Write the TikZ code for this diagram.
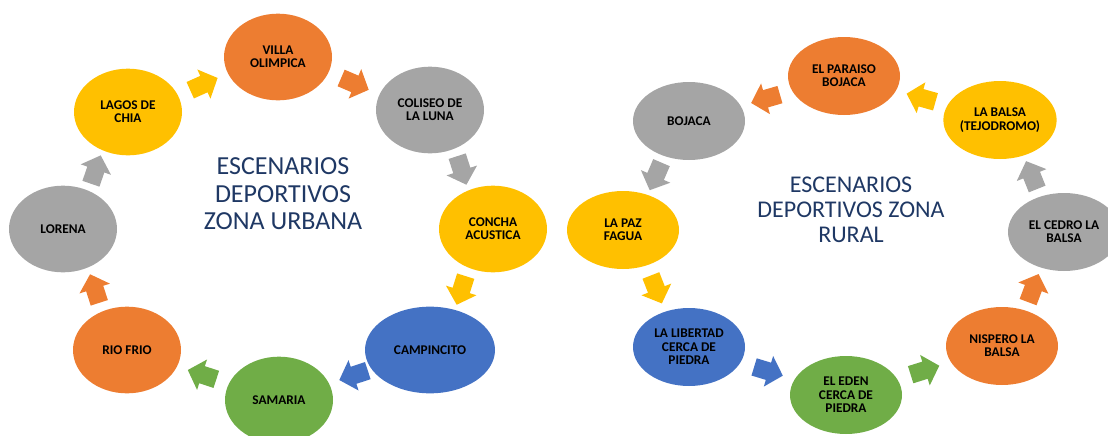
\documentclass[tikz,border=0pt]{standalone}
\usepackage{fontspec}
\setmainfont{Carlito}
\usetikzlibrary{shapes.geometric,calc}
\definecolor{naranja}{HTML}{ED7D31}
\definecolor{amarillo}{HTML}{FFC000}
\definecolor{gris}{HTML}{A5A5A5}
\definecolor{azul}{HTML}{4472C4}
\definecolor{verde}{HTML}{70AD47}
\definecolor{titulo}{HTML}{1F3864}

\begin{document}
\begin{tikzpicture}
  [x=0.75pt,y=-0.75pt,
   lugar/.style={ellipse,inner sep=0pt,minimum width=81pt,minimum height=65pt,
     align=center,font=\fontsize{10}{10}\selectfont\bfseries},
   rural/.style={lugar,minimum width=84pt,minimum height=58.5pt},
   titulo/.style={text=titulo,align=center},
   flecha/.pic={\fill[#1] (-14,-9) -- (1,-9) -- (1,-16) -- (16,0) -- (1,16) -- (1,9) -- (-14,9) -- cycle;}]
  \useasboundingbox (0,0) rectangle (1108,436);
  % zona urbana
  \node[lugar,fill=gris]     (lorena)     at (63,229)  {LORENA};
  \node[lugar,fill=amarillo] (lagos)      at (128,112) {LAGOS DE\\CHIA};
  \node[lugar,fill=naranja]  (villa)      at (278,57)  {VILLA\\OLIMPICA};
  \node[lugar,fill=gris]     (coliseo)    at (430,110) {COLISEO DE\\LA LUNA};
  \node[lugar,fill=amarillo] (concha)     at (493,229) {CONCHA\\ACUSTICA};
  \node[lugar,fill=azul,minimum width=97.5pt] (campincito) at (430,350) {CAMPINCITO};
  \node[lugar,fill=verde]    (samaria)    at (279,400) {SAMARIA};
  \node[lugar,fill=naranja]  (riofrio)    at (127,350) {RIO FRIO};
  \node[titulo,font=\fontsize{19.5}{20.6}\selectfont] (turbana) at (283,194)
    {ESCENARIOS\\DEPORTIVOS\\ZONA URBANA};
  % zona rural
  \node[rural,fill=gris]     (bojaca)   at (689,121)  {BOJACA};
  \node[rural,fill=naranja]  (paraiso)  at (844,76)   {EL PARAISO\\BOJACA};
  \node[rural,fill=amarillo] (balsa)    at (1000,120) {LA BALSA\\(TEJODROMO)};
  \node[rural,fill=gris]     (cedro)    at (1064,232) {EL CEDRO LA\\BALSA};
  \node[rural,fill=naranja]  (nispero)  at (1002,346) {NISPERO LA\\BALSA};
  \node[rural,fill=verde]    (eden)     at (846,395)  {EL EDEN\\CERCA DE\\PIEDRA};
  \node[rural,fill=azul]     (libertad) at (689,347)  {LA LIBERTAD\\CERCA DE\\PIEDRA};
  \node[rural,fill=amarillo] (lapaz)    at (623,230)  {LA PAZ\\FAGUA};
  \node[titulo,font=\fontsize{18}{18.8}\selectfont] (trural) at (851,210)
    {ESCENARIOS\\DEPORTIVOS ZONA\\RURAL};
  % flechas: origen/destino/color/giro
  \foreach \from/\to/\col/\giro in {lorena/lagos/gris/10,lagos/villa/amarillo/4,villa/coliseo/naranja/-4,
      coliseo/concha/gris/-10,concha/campincito/amarillo/10,campincito/samaria/azul/0,
      samaria/riofrio/verde/0,riofrio/lorena/naranja/-10,
      bojaca/lapaz/gris/8,lapaz/libertad/amarillo/-8,libertad/eden/azul/0,eden/nispero/verde/0,
      nispero/cedro/naranja/8,cedro/balsa/gris/-8,balsa/paraiso/amarillo/0,paraiso/bojaca/naranja/0}
    \path let \p1=($(\to)-(\from)$), \n1={atan2(\y1,\x1)+\giro} in
      ($(\from)!.5!(\to)$) pic[rotate=\n1] {flecha=\col};
\end{tikzpicture}
\end{document}
